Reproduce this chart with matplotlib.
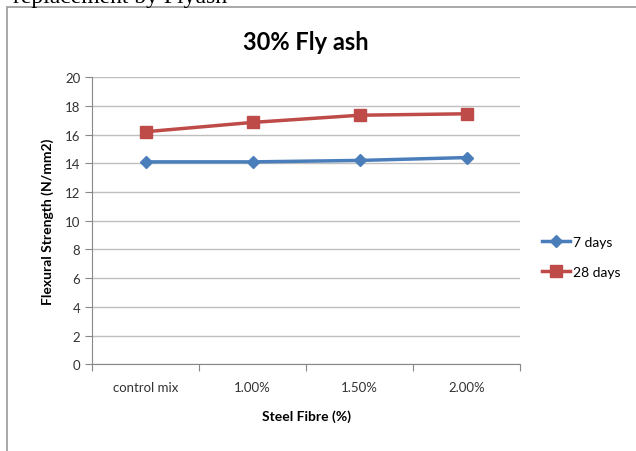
import matplotlib.pyplot as plt
from matplotlib.patches import Rectangle

categories = ["control mix", "1.00%", "1.50%", "2.00%"]
days7 = [14.1, 14.1, 14.2, 14.4]
days28 = [16.2, 16.85, 17.35, 17.45]

plt.rcParams['font.family'] = ['Lato', 'DejaVu Sans']

fig = plt.figure(figsize=(6.36, 4.52), dpi=100)
ax = fig.add_axes([0.145, 0.192, 0.673, 0.635])

# chart border and the cut-off caption above it
fig.patches.append(Rectangle((0.011, -0.01), 1.2, 0.993, transform=fig.transFigure,
                             fill=False, edgecolor='#9a9a9a', linewidth=1.2))
fig.text(0.02, 1.005, "replacement by Flyash", fontsize=17, family='Liberation Serif',
         va='center', ha='left')

x = [i + 0.5 for i in range(len(categories))]
ax.plot(x, days7, color='#4a7ebb', marker='D', markersize=6, linewidth=2.5, label='7 days')
ax.plot(x, days28, color='#be4b48', marker='s', markersize=8, linewidth=2.5, label='28 days')

ax.set_xlim(0, 4)
ax.set_ylim(0, 20)
ax.set_yticks(range(0, 21, 2))
ax.set_xticks(range(0, 5))
ax.set_xticklabels([])
ax.set_xticks(x, minor=True)
ax.set_xticklabels(categories, minor=True)
ax.tick_params(axis='x', which='minor', length=0, pad=12, labelsize=9.5, colors='#333333')
ax.tick_params(axis='x', which='major', length=5, color='#888888')
ax.tick_params(axis='y', length=5, color='#888888', labelsize=9.5, labelcolor='#333333')

ax.grid(axis='y', color='#bfbfbf', linewidth=1)
ax.set_axisbelow(True)
for s in ['top', 'right']:
    ax.spines[s].set_visible(False)
ax.spines['left'].set_color('#888888')
ax.spines['bottom'].set_color('#888888')

ax.set_title("30% Fly ash", fontsize=17, fontweight='bold', pad=20)
ax.set_xlabel("Steel Fibre (%)", fontsize=10, fontweight='bold', labelpad=12)
ax.set_ylabel("Flexural Strength (N/mm2)", fontsize=10, fontweight='bold', labelpad=8)

ax.legend(loc='center left', bbox_to_anchor=(1.035, 0.375), frameon=False,
          fontsize=10, handlelength=2.0, labelspacing=1.3, handletextpad=0.2,
          borderpad=0)

fig.savefig("out.png", dpi=100)
